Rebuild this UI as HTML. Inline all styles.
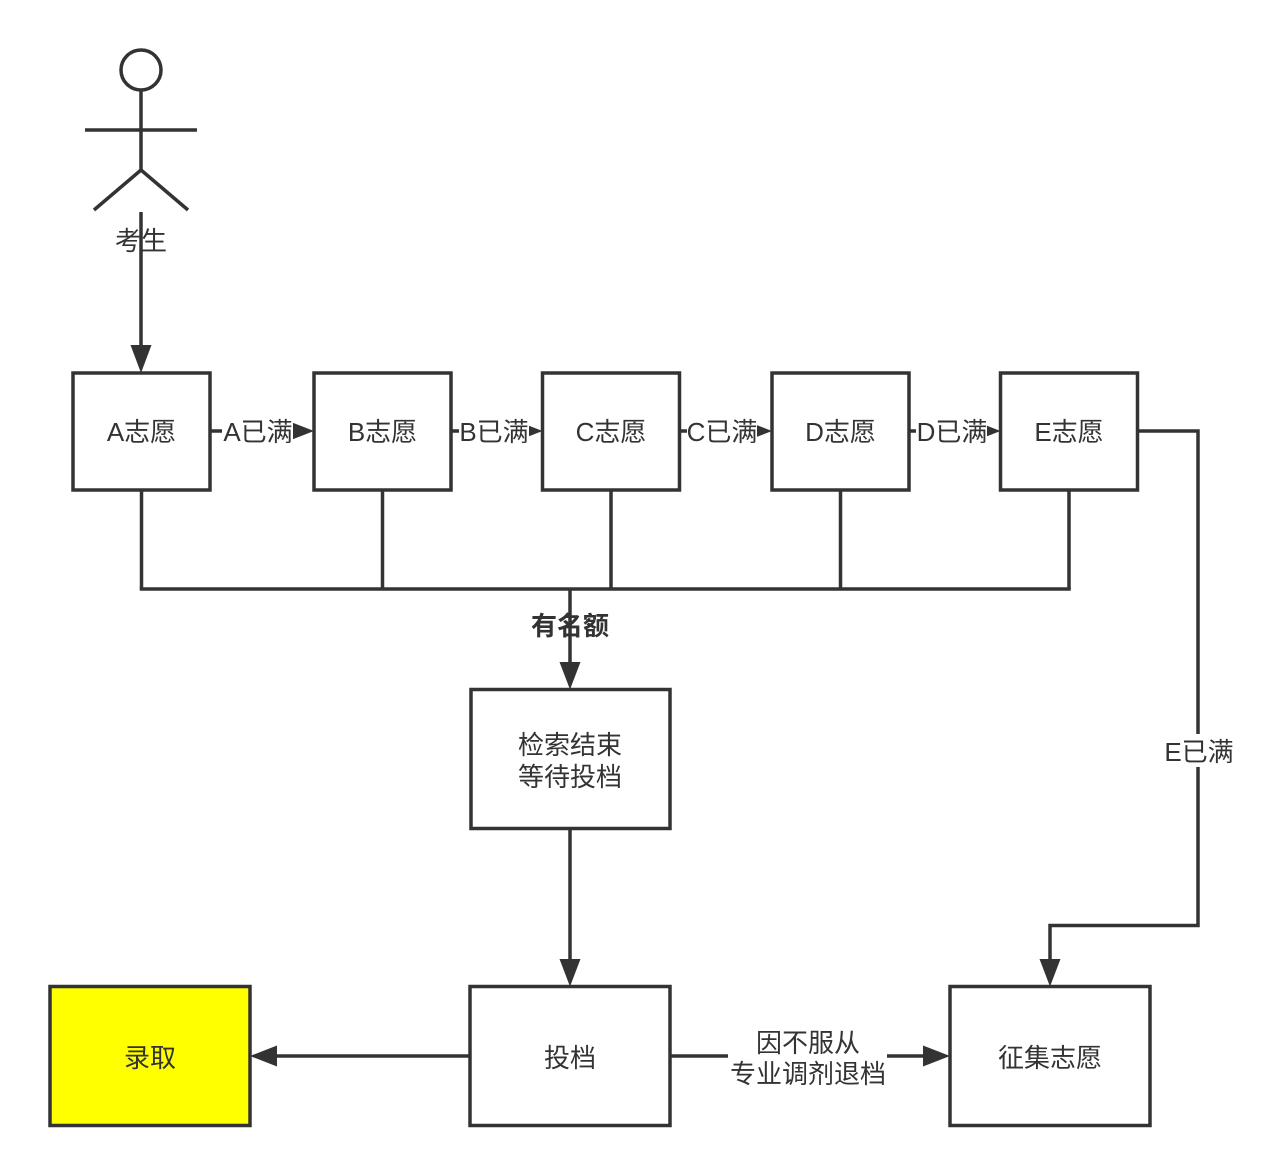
<!DOCTYPE html>
<html>
<head>
<meta charset="utf-8">
<style>
  html, body { margin: 0; padding: 0; background: #ffffff; }
  svg { display: block; }
  text { font-family: "Liberation Sans", "Noto Sans CJK SC", sans-serif; font-size: 26px; fill: #333333; }
</style>
</head>
<body>
<svg width="1261" height="1176" viewBox="0 0 1261 1176" xmlns="http://www.w3.org/2000/svg">
  <rect x="0" y="0" width="1261" height="1176" fill="#ffffff"/>
  <g stroke="#333333" stroke-width="3.5" fill="none">
    <!-- actor -->
    <circle cx="141" cy="70" r="20" stroke-width="3.5"/>
    <line x1="85" y1="130" x2="197" y2="130"/>
    <line x1="141" y1="90" x2="141" y2="170"/>
    <line x1="141" y1="170" x2="94" y2="210"/>
    <line x1="141" y1="170" x2="188" y2="210"/>
    <!-- actor to A -->
    <line x1="141" y1="212" x2="141" y2="347"/>

    <!-- row boxes -->
    <rect x="73" y="373" width="137" height="117"/>
    <rect x="314" y="373" width="137" height="117"/>
    <rect x="542.5" y="373" width="137" height="117"/>
    <rect x="772" y="373" width="137" height="117"/>
    <rect x="1000.5" y="373" width="137" height="117"/>

    <!-- horizontal connectors -->
    <line x1="210" y1="431" x2="290" y2="431"/>
    <line x1="451" y1="431" x2="518" y2="431"/>
    <line x1="679.5" y1="431" x2="748" y2="431"/>
    <line x1="909" y1="431" x2="977" y2="431"/>

    <!-- drops and bus -->
    <line x1="141.5" y1="490" x2="141.5" y2="589"/>
    <line x1="382.5" y1="490" x2="382.5" y2="589"/>
    <line x1="611" y1="490" x2="611" y2="589"/>
    <line x1="840.5" y1="490" x2="840.5" y2="589"/>
    <line x1="1069" y1="490" x2="1069" y2="589"/>
    <line x1="139.75" y1="589" x2="1070.75" y2="589"/>
    <line x1="570" y1="589" x2="570" y2="664"/>

    <!-- search box -->
    <rect x="471" y="689.5" width="199" height="139"/>
    <line x1="570" y1="829" x2="570" y2="961"/>

    <!-- bottom boxes -->
    <rect x="50" y="986.5" width="200" height="139" fill="#ffff00"/>
    <rect x="470" y="986.5" width="200" height="139"/>
    <rect x="950" y="986.5" width="200" height="139"/>

    <line x1="470" y1="1056" x2="275" y2="1056"/>
    <line x1="670" y1="1056" x2="924" y2="1056"/>

    <!-- E full path -->
    <polyline points="1137.5,431 1198,431 1198,925.5 1050,925.5 1050,960"/>
  </g>

  <!-- arrowheads -->
  <g fill="#333333" stroke="none">
    <polygon points="141,373 130.5,345 151.5,345"/>
    <polygon points="314,431 287,420.5 287,441.5"/>
    <polygon points="542.5,431 515.5,420.5 515.5,441.5"/>
    <polygon points="772,431 745,420.5 745,441.5"/>
    <polygon points="1000.5,431 973.5,420.5 973.5,441.5"/>
    <polygon points="570,689.5 559.5,662 580.5,662"/>
    <polygon points="570,986.5 559.5,959 580.5,959"/>
    <polygon points="250,1056 277,1045.5 277,1066.5"/>
    <polygon points="950,1056 923,1045.5 923,1066.5"/>
    <polygon points="1050,986.5 1039.5,959 1060.5,959"/>
  </g>

  <!-- label backgrounds -->
  <g fill="#ffffff" stroke="none">
    <rect x="222" y="416" width="71" height="32"/>
    <rect x="459" y="416" width="70" height="32"/>
    <rect x="687" y="416" width="70" height="32"/>
    <rect x="916" y="416" width="71" height="32"/>
    <rect x="1165" y="734" width="68" height="33"/>
    <rect x="728" y="1026" width="159" height="64"/>
  </g>

  <!-- texts -->
  <g text-anchor="middle" dominant-baseline="central">
    <text x="141" y="241">考生</text>
    <text x="141.5" y="432">A志愿</text>
    <text x="382.5" y="432">B志愿</text>
    <text x="611" y="432">C志愿</text>
    <text x="840.5" y="432">D志愿</text>
    <text x="1069" y="432">E志愿</text>

    <text x="258" y="432">A已满</text>
    <text x="494" y="432">B已满</text>
    <text x="722" y="432">C已满</text>
    <text x="952" y="432">D已满</text>

    <text x="570" y="626" font-weight="bold">有名额</text>
    <text x="570" y="745">检索结束</text>
    <text x="570" y="777">等待投档</text>

    <text x="1199" y="752">E已满</text>

    <text x="150" y="1058">录取</text>
    <text x="570" y="1058">投档</text>
    <text x="1050" y="1058">征集志愿</text>

    <text x="808" y="1043">因不服从</text>
    <text x="808" y="1074">专业调剂退档</text>
  </g>
</svg>
</body>
</html>
